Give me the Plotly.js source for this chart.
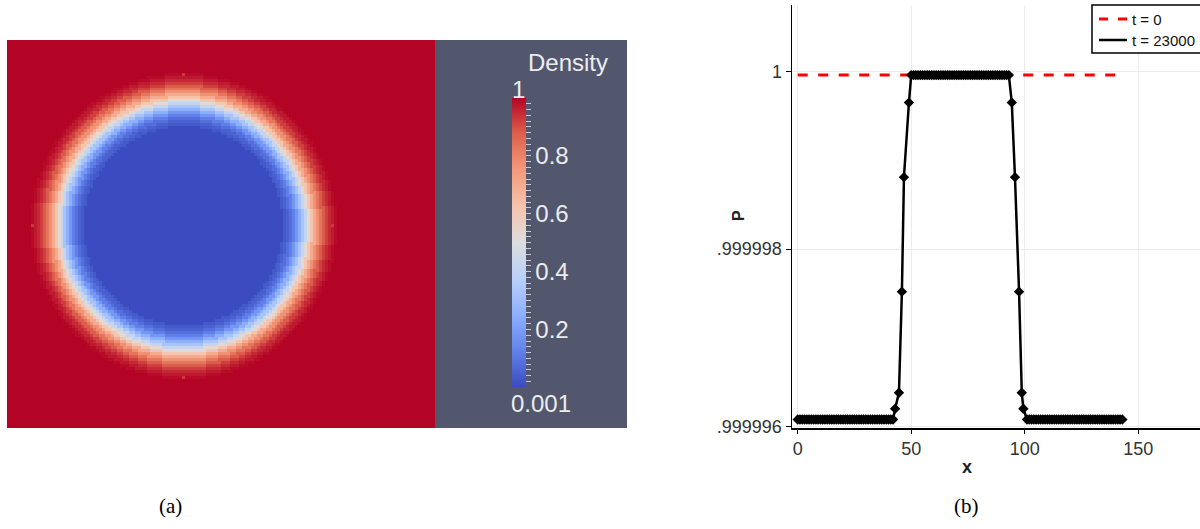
<!DOCTYPE html>
<html>
<head>
<meta charset="utf-8">
<script src="https://cdn.plot.ly/plotly-3.0.1.min.js"></script>
<style>
  html, body { margin: 0; padding: 0; background: #ffffff; overflow: hidden; }
  #chart { width: 1200px; height: 529px; }
</style>
</head>
<body>
<div id="chart"></div>
<script>
// ---------- panel (b): pressure P along x ----------
const seriesNames = ['t = 0', 't = 23000'];
const xInitial = [0, 143];
const pInitial = [0.99999996, 0.99999996];

// final state (t = 23000): low plateau, left wall, high plateau, right wall, low plateau
const xLowLeft = [0,1,2,3,4,5,6,7,8,9,10,11,12,13,14,15,16,17,18,19,20,21,22,23,24,25,26,27,28,29,30,31,32,33,34,35,36,37,38,39,40,41,42];
const xWallLeft = [42.9, 44.6, 45.9, 46.8, 49.0];
const pWallLeft = [0.99999620, 0.99999638, 0.99999752, 0.99999881, 0.99999965];
const xHigh = [50,51,52,53,54,55,56,57,58,59,60,61,62,63,64,65,66,67,68,69,70,71,72,73,74,75,76,77,78,79,80,81,82,83,84,85,86,87,88,89,90,91,92,93];
const xWallRight = [94.3, 95.7, 97.5, 98.7, 99.4];
const pWallRight = [0.99999965, 0.99999881, 0.99999752, 0.99999638, 0.99999620];
const xLowRight = [101,102,103,104,105,106,107,108,109,110,111,112,113,114,115,116,117,118,119,120,121,122,123,124,125,126,127,128,129,130,131,132,133,134,135,136,137,138,139,140,141,142,143];
const pLowLevel = 0.99999608;
const pHighLevel = 0.99999996;

const xFinal = [].concat(xLowLeft, xWallLeft, xHigh, xWallRight, xLowRight);
const pFinal = [].concat(
  xLowLeft.map(() => pLowLevel), pWallLeft,
  xHigh.map(() => pHighLevel), pWallRight,
  xLowRight.map(() => pLowLevel)
);

const pTickVals = [0.999996, 0.999998, 1];
const pTickText = ['.999996', '.999998', '1'];
const xTickVals = [0, 50, 100, 150];

// ---------- panel (a): density field on a 144 x 131 cell window ----------
const gridCols = 144;
const gridRows = 131;
const bubbleCenter = [58.9, 62.1];           // cell units (col, row)
// density across the interface, by distance from the bubble centre (cells)
const profileRadius  = [33, 34, 35, 36, 37, 38, 39, 40, 41, 42, 43, 44, 45, 46, 47, 48, 49, 50, 51, 52];
const profileDensity = [0.001, 0.03, 0.05, 0.08, 0.12, 0.18, 0.25, 0.33, 0.42, 0.52, 0.62, 0.70, 0.77, 0.83, 0.88, 0.92, 0.95, 0.97, 0.99, 1.0];
// single grid cells sticking out of the interface at the four poles
const spotCols = [59, 8, 109, 59];
const spotRows = [11, 62, 62, 113];
const spotDensity = [0.93, 0.93, 0.93, 0.93];

const colorbarMajorVals = [0.2, 0.4, 0.6, 0.8];
const colorbarMajorText = ['0.2', '0.4', '0.6', '0.8'];

function densityAtRadius(r) {
  const k = Math.round(r);
  if (k <= profileRadius[0]) return profileDensity[0];
  if (k >= profileRadius[profileRadius.length - 1]) return profileDensity[profileDensity.length - 1];
  return profileDensity[k - profileRadius[0]];
}

const cols = [], rows = [], density = [];
for (let i = 0; i < gridCols; i++) cols.push(i);
for (let j = 0; j < gridRows; j++) {
  rows.push(j);
  const line = [];
  for (let i = 0; i < gridCols; i++) {
    const r = Math.hypot(i - bubbleCenter[0], j - bubbleCenter[1]);
    line.push(densityAtRadius(r));
  }
  density.push(line);
}
spotCols.forEach((c, k) => { density[spotRows[k]][c] = spotDensity[k]; });

// cool-to-warm diverging map
const coolWarm = [
  [0.000, 'rgb(59,76,192)'],
  [0.125, 'rgb(98,130,234)'],
  [0.250, 'rgb(141,176,254)'],
  [0.375, 'rgb(184,208,249)'],
  [0.500, 'rgb(221,221,221)'],
  [0.625, 'rgb(245,196,173)'],
  [0.750, 'rgb(244,154,123)'],
  [0.875, 'rgb(222,96,77)'],
  [1.000, 'rgb(180,4,38)']
];

// colour-bar ticks: fine ticks every 0.02, labels on the major ones
const cbTickVals = [], cbTickText = [];
for (let k = 1; k < 50; k++) {
  const v = +(k * 0.02).toFixed(2);
  cbTickVals.push(v);
  const m = colorbarMajorVals.indexOf(v);
  cbTickText.push(m >= 0 ? colorbarMajorText[m] : '');
}

const W = 1200, H = 529;
const px = v => v / W;
const py = v => 1 - v / H;

const sans = 'Liberation Sans, Arial, Helvetica, sans-serif';
const serif = 'Liberation Serif, Times New Roman, serif';

function label(text, x, y, font, extra) {
  return Object.assign({
    text, x: px(x), y: py(y), xref: 'paper', yref: 'paper',
    xanchor: 'center', yanchor: 'middle', showarrow: false, font
  }, extra || {});
}

const initialLine = { color: '#ff0000', width: 3, dash: '10px,10.5px' };
const finalLine = { color: '#000000', width: 2.5 };

const traces = [
  {
    type: 'heatmap',
    x: cols, y: rows, z: density,
    xaxis: 'x2', yaxis: 'y2',
    colorscale: coolWarm, zmin: 0.001, zmax: 1, zsmooth: false,
    hoverinfo: 'skip',
    colorbar: {
      x: px(512), xanchor: 'left', xpad: 0,
      y: py(242.5), yanchor: 'middle', ypad: 0,
      len: 289, lenmode: 'pixels',
      thickness: 14, thicknessmode: 'pixels',
      outlinewidth: 0,
      tickmode: 'array', tickvals: cbTickVals, ticktext: cbTickText,
      ticks: 'outside', ticklen: 5, tickwidth: 1, tickcolor: '#c9cad2',
      tickfont: { family: sans, size: 24, color: '#ececec' }
    }
  },
  {
    type: 'scatter', mode: 'lines', name: seriesNames[0],
    x: xInitial, y: pInitial, line: initialLine, hoverinfo: 'skip'
  },
  {
    type: 'scatter', mode: 'lines+markers', name: seriesNames[1],
    x: xFinal, y: pFinal, line: finalLine,
    marker: { symbol: 'diamond', size: 8, color: '#000000' },
    hoverinfo: 'skip'
  }
];

const layout = {
  width: W, height: H,
  margin: { l: 0, r: 0, t: 0, b: 0, pad: 0, autoexpand: false },
  paper_bgcolor: '#ffffff', plot_bgcolor: '#ffffff',
  font: { family: sans, color: '#333333' },
  showlegend: false,
  xaxis: {
    domain: [px(792), 1], range: [-2.51, 177.2], anchor: 'y',
    tickmode: 'array', tickvals: xTickVals,
    ticks: 'outside', ticklen: 4, tickcolor: '#000000',
    showline: true, linecolor: '#000000', linewidth: 1.5,
    showgrid: true, gridcolor: '#ececec', zeroline: false,
    tickfont: { family: sans, size: 18, color: '#333333' }
  },
  yaxis: {
    domain: [py(428.3), py(5)], range: [0.99999598, 1.00000075], anchor: 'x',
    tickmode: 'array', tickvals: pTickVals, ticktext: pTickText,
    ticks: 'outside', ticklen: 5, tickcolor: '#000000',
    showline: true, linecolor: '#000000', linewidth: 1.5,
    showgrid: true, gridcolor: '#ececec', zeroline: false,
    tickfont: { family: sans, size: 18, color: '#333333' }
  },
  xaxis2: {
    domain: [px(7), px(435)], range: [-0.5, 143.5], anchor: 'y2',
    visible: false, fixedrange: true
  },
  yaxis2: {
    domain: [py(428), py(40)], range: [130.05, -0.5], anchor: 'x2',
    visible: false, fixedrange: true
  },
  shapes: [
    // dark backdrop behind the colour bar
    {
      type: 'rect', xref: 'paper', yref: 'paper', layer: 'below',
      x0: px(435), x1: px(627), y0: py(428), y1: py(40),
      fillcolor: '#52576e', line: { width: 0 }
    },
    // legend box and its line samples
    {
      type: 'rect', xref: 'paper', yref: 'paper', layer: 'above',
      x0: px(1092), x1: px(1230), y0: py(53), y1: py(5),
      fillcolor: '#ffffff', line: { color: '#000000', width: 1.5 }
    },
    {
      type: 'line', xref: 'paper', yref: 'paper', layer: 'above',
      x0: px(1099), x1: px(1127), y0: py(19), y1: py(19),
      line: { color: initialLine.color, width: 3, dash: '9px,10px' }
    },
    {
      type: 'line', xref: 'paper', yref: 'paper', layer: 'above',
      x0: px(1099), x1: px(1127), y0: py(40), y1: py(40),
      line: { color: finalLine.color, width: 2.5 }
    }
  ],
  annotations: [
    label('Density', 568, 62, { family: sans, size: 24, color: '#ececec' }),
    label('1', 518, 90, { family: sans, size: 24, color: '#ececec' }),
    label('0.001', 541, 403, { family: sans, size: 24, color: '#ececec' }),
    label('<b>P</b>', 738, 216, { family: sans, size: 16, color: '#222222' }, { textangle: -90 }),
    label('<b>x</b>', 967, 467, { family: sans, size: 18, color: '#222222' }),
    label('(a)', 170, 506, { family: serif, size: 21, color: '#000000' }),
    label('(b)', 966, 506, { family: serif, size: 21, color: '#000000' }),
    label(seriesNames[0], 1130, 19, { family: sans, size: 15, color: '#111111' }, { xanchor: 'left' }),
    label(seriesNames[1], 1130, 40, { family: sans, size: 15, color: '#111111' }, { xanchor: 'left' })
  ]
};

Plotly.newPlot('chart', traces, layout, { staticPlot: true, displayModeBar: false });
</script>
</body>
</html>
